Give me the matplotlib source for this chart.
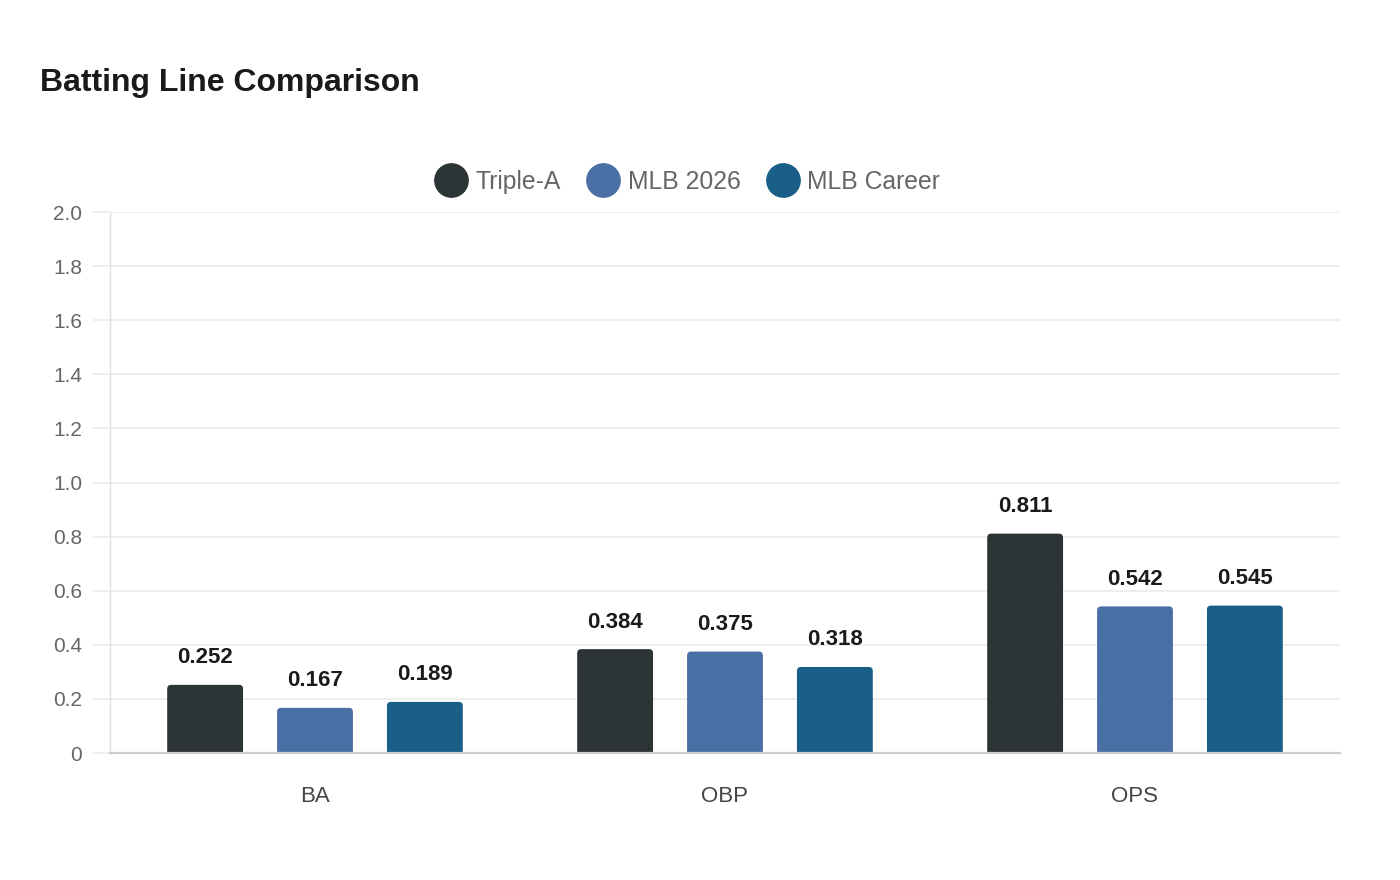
import matplotlib
matplotlib.use("Agg")
import matplotlib.pyplot as plt
from matplotlib.lines import Line2D
from matplotlib.patches import FancyBboxPatch
import numpy as np

plt.rcParams['font.family'] = ['Liberation Sans', 'DejaVu Sans']

# data
categories = ['BA', 'OBP', 'OPS']
series_names = ['Triple-A', 'MLB 2026', 'MLB Career']
triple_a = [0.252, 0.384, 0.811]
mlb_2026 = [0.167, 0.375, 0.542]
mlb_career = [0.189, 0.318, 0.545]
colors = ['#2d3436', '#4a6fa5', '#1a5f87']
y_ticks = [0, 0.2, 0.4, 0.6, 0.8, 1.0, 1.2, 1.4, 1.6, 1.8, 2.0]

fig = plt.figure(figsize=(14, 8.8), dpi=100)
ax = fig.add_axes([110 / 1400, 1 - 753 / 880, 1230 / 1400, 541 / 880])

x = np.arange(len(categories))
width = 0.185
offset = 0.268
series = [triple_a, mlb_2026, mlb_career]

# pixel -> data conversion for rounded corners
px_x = 3 / 1230
px_y = 2.0 / 541
radius = 4

for i, (vals, col) in enumerate(zip(series, colors)):
    bars = ax.bar(x + (i - 1) * offset, vals, width, color=col)
    for b, v in zip(bars, vals):
        b.set_visible(False)
        rx = radius * px_x
        ry = radius * px_y
        # rounded box, bottom pushed below the axis so only the top corners show
        patch = FancyBboxPatch(
            (b.get_x() + rx, -ry), b.get_width() - 2 * rx, b.get_height(),
            boxstyle=f"round,pad={rx},rounding_size={rx}",
            mutation_aspect=ry / rx, facecolor=col, edgecolor='none', zorder=2)
        ax.add_patch(patch)
        ax.annotate(f"{v:.3f}", (b.get_x() + b.get_width() / 2, v),
                    xytext=(0, 19.5), textcoords='offset points',
                    ha='center', va='center', fontsize=16, fontweight='bold',
                    color='#1a1a1a')

ax.set_xlim(-0.5, 2.5)
ax.set_ylim(0, 2.0)
ax.set_yticks(y_ticks)
ax.set_yticklabels(['0' if t == 0 else f"{t:.1f}" for t in y_ticks])
ax.set_xticks(x)
ax.set_xticklabels(categories)

ax.grid(axis='y', color='#ebebeb', linewidth=1.2, zorder=0)
ax.set_axisbelow(True)
ax.tick_params(axis='y', length=12, color='#ebebeb', width=1.2, pad=8,
               labelsize=15, labelcolor='#666666')
ax.tick_params(axis='x', length=0, pad=24, labelsize=16, labelcolor='#444444')

for s in ['top', 'right']:
    ax.spines[s].set_visible(False)
ax.spines['left'].set_color('#e0e0e0')
ax.spines['left'].set_linewidth(1)
ax.spines['bottom'].set_color('#cccccc')
ax.spines['bottom'].set_linewidth(1.6)
ax.spines['bottom'].set_zorder(3)

handles = [Line2D([], [], linestyle='none', marker='o', markersize=24,
                  markerfacecolor=c, markeredgecolor=c) for c in colors]
fig.legend(handles, series_names, loc='center', bbox_to_anchor=(687 / 1400, 1 - 182 / 880),
           ncol=3, frameon=False, fontsize=17.8, labelcolor='#666666',
           handlelength=1.4, handletextpad=0.3, columnspacing=1.0)

fig.text(40 / 1400, 1 - 83 / 880, 'Batting Line Comparison', fontsize=23,
         fontweight='bold', color='#1a1a1a', ha='left', va='center')

fig.savefig('out.png', dpi=100, facecolor='white')
